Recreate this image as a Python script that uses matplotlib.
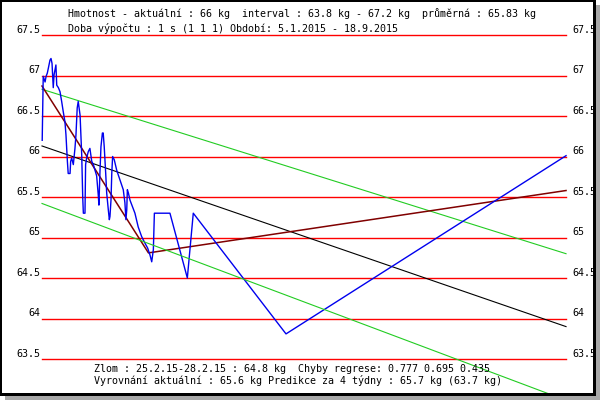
import matplotlib.pyplot as plt
from matplotlib.patches import Rectangle

# dny od 5.1.2015 a hmotnost (kg)
dny = [0.1, 0.6, 1.5, 2.0, 2.6, 3.1, 3.9, 4.4, 4.9, 5.5, 5.9, 6.8, 7.2, 8.0, 8.8,
       9.6, 10.4, 11.2, 11.7, 12.4, 12.8, 13.7, 14.0, 14.5, 15.3, 16.1, 16.6, 17.2,
       17.7, 18.6, 19.4, 19.9, 20.2, 21.0, 21.3, 21.8, 22.6, 23.4, 24.3, 25.1, 26.7,
       27.5, 27.8, 28.3, 28.8, 29.5, 29.9, 30.4, 31.1, 31.6, 32.4, 32.9, 33.2, 33.7,
       34.1, 34.5, 35.3, 36.5, 38.1, 39.7, 40.5, 41.0, 41.4, 41.7, 42.2, 43.0, 45.4,
       47.0, 48.7, 50.3, 51.6, 52.8, 53.6, 54.4, 54.9, 62.5, 71.0, 73.9, 119.2, 256]
hmotnost = [66.20, 66.99, 66.92, 66.99, 67.03, 67.09, 67.19, 67.21, 67.15, 66.85,
            67.01, 67.13, 66.88, 66.85, 66.80, 66.68, 66.55, 66.43, 66.27, 65.94,
            65.79, 65.79, 65.94, 65.98, 65.90, 66.10, 66.27, 66.60, 66.68, 66.51,
            66.02, 65.49, 65.30, 65.30, 65.90, 65.98, 66.06, 66.10, 65.94, 65.90,
            65.76, 65.52, 65.40, 65.80, 66.12, 66.29, 66.29, 66.12, 65.80, 65.55,
            65.34, 65.22, 65.26, 65.46, 65.80, 66.00, 65.96, 65.83, 65.71, 65.59,
            65.43, 65.22, 65.34, 65.59, 65.55, 65.46, 65.30, 65.13, 65.01, 64.93,
            64.87, 64.78, 64.70, 64.85, 65.30, 65.30, 64.50, 65.30, 63.81, 66.01]

# regrese a pasmo
reg_dny = [0, 256]
regrese = [66.13, 63.90]
horni = [66.83, 64.80]
dolni = [65.42, 62.99]

# lomena regrese (zlom 25.2.-28.2.)
zlom_dny = [0, 52, 256]
zlom = [66.87, 64.81, 65.58]

urovne = [63.5, 64, 64.5, 65, 65.5, 66, 66.5, 67, 67.5]
popisky = ["63.5", "64", "64.5", "65", "65.5", "66", "66.5", "67", "67.5"]

radek1 = "Hmotnost - aktuální : 66 kg  interval : 63.8 kg - 67.2 kg  průměrná : 65.83 kg"
radek2 = "Doba výpočtu : 1 s (1 1 1) Období: 5.1.2015 - 18.9.2015"
radek3 = "Zlom : 25.2.15-28.2.15 : 64.8 kg  Chyby regrese: 0.777 0.695 0.435"
radek4 = "Vyrovnání aktuální : 65.6 kg Predikce za 4 týdny : 65.7 kg (63.7 kg)"

W, H = 600, 400
fig = plt.figure(figsize=(6, 4), dpi=100)
ax = fig.add_axes([0, 0, 1, 1])
ax.set_axis_off()

# 1 den = 2.047 px, 1 kg = 81 px, den 0 na x=42, 67.5 kg na y=35
sx, sy = 2.047, 81.0
ax.set_xlim(-42 / sx, (W - 42) / sx)
ax.set_ylim(67.5 - (H - 35) / sy, 67.5 + 35 / sy)

font = dict(family="DejaVu Sans Mono", fontsize=7.2)

for u, p in zip(urovne, popisky):
    ax.plot([0, 256], [u, u], color="red", lw=1.0, zorder=2)
    ax.annotate(p, (0, u), xytext=(-1.5, 1.5), textcoords="offset points",
                ha="right", va="baseline", **font)
    ax.annotate(p, (256, u), xytext=(4.3, 1.5), textcoords="offset points",
                ha="left", va="baseline", **font)

ax.plot(reg_dny, horni, color="#22cc22", lw=0.8, zorder=3)
ax.plot(reg_dny, dolni, color="#22cc22", lw=0.8, zorder=6)
ax.plot(reg_dny, regrese, color="black", lw=0.8, zorder=3)
ax.plot(zlom_dny, zlom, color="#800000", lw=1.1, zorder=3)
ax.plot(dny, hmotnost, color="#0000ee", lw=1.0, zorder=4)

def px(x, y):
    return x / W, 1 - y / H

fig.text(*px(68, 17), radek1, va="baseline", **font)
fig.text(*px(68, 32), radek2, va="baseline", **font)
fig.text(*px(94, 372), radek3, va="baseline", **font)
fig.text(*px(94, 384), radek4, va="baseline", **font)

# ramecek se stinem
def obdelnik(x0, y0, x1, y1, c):
    fig.patches.append(Rectangle((x0 / W, 1 - y1 / H), (x1 - x0) / W, (y1 - y0) / H,
                                 transform=fig.transFigure, color=c, lw=0, zorder=5))

obdelnik(595, 5, 600, 400, "#a8a8a8")
obdelnik(5, 395, 600, 400, "#a8a8a8")
obdelnik(0, 0, 2, 395, "black")
obdelnik(0, 0, 595, 1.5, "black")
obdelnik(592.5, 0, 595.5, 395, "black")
obdelnik(0, 392.5, 595.5, 395.5, "black")

fig.savefig("out.png", dpi=100)
